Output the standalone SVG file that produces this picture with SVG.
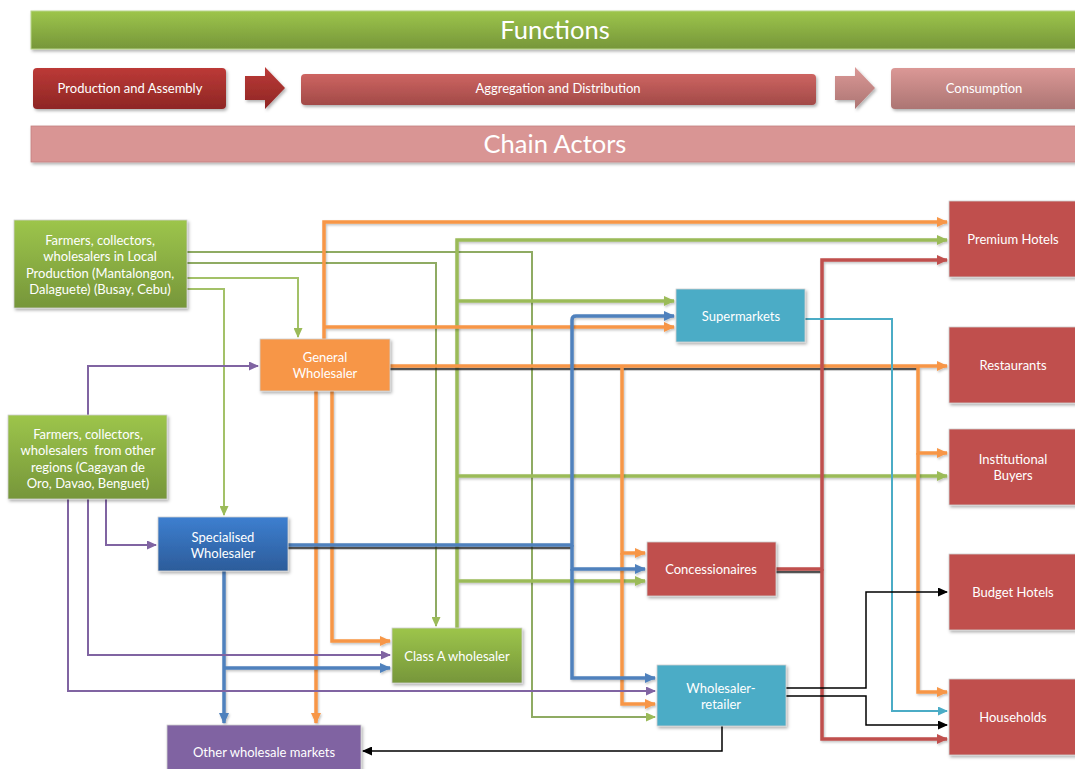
<svg xmlns="http://www.w3.org/2000/svg" width="1075" height="769" viewBox="0 0 1075 769">
  <defs>
    <linearGradient id="gGreen" x1="0" y1="0" x2="0" y2="1">
      <stop offset="0" stop-color="#9dc54b"/>
      <stop offset="1" stop-color="#76963a"/>
    </linearGradient>
    <linearGradient id="gBlue" x1="0" y1="0" x2="0" y2="1">
      <stop offset="0" stop-color="#3d7fd0"/>
      <stop offset="1" stop-color="#2c5c9a"/>
    </linearGradient>
    <linearGradient id="gDarkRed" x1="0" y1="0" x2="0" y2="1">
      <stop offset="0" stop-color="#bc3a37"/>
      <stop offset="1" stop-color="#8e2624"/>
    </linearGradient>
    <linearGradient id="gMidRed" x1="0" y1="0" x2="0" y2="1">
      <stop offset="0" stop-color="#cd6461"/>
      <stop offset="1" stop-color="#a24a48"/>
    </linearGradient>
    <linearGradient id="gPink" x1="0" y1="0" x2="0" y2="1">
      <stop offset="0" stop-color="#db9896"/>
      <stop offset="1" stop-color="#ac7573"/>
    </linearGradient>
    <filter id="shadow" x="-10%" y="-10%" width="130%" height="140%">
      <feDropShadow dx="1.5" dy="2" stdDeviation="1.5" flood-color="#000" flood-opacity="0.3"/>
    </filter>
    <filter id="lineShadow" x="-5%" y="-5%" width="110%" height="110%">
      <feDropShadow dx="1" dy="1.5" stdDeviation="0.8" flood-color="#000" flood-opacity="0.25"/>
    </filter>
    <marker id="aOrange" markerUnits="userSpaceOnUse" markerWidth="11" markerHeight="10" refX="10" refY="5" orient="auto">
      <path d="M0,0 L11,5 L0,10 z" fill="#f79646"/>
    </marker>
    <marker id="aGreen" markerUnits="userSpaceOnUse" markerWidth="11" markerHeight="10" refX="10" refY="5" orient="auto">
      <path d="M0,0 L11,5 L0,10 z" fill="#9bbb59"/>
    </marker>
    <marker id="aGreenThin" markerUnits="userSpaceOnUse" markerWidth="10" markerHeight="9" refX="9" refY="4.5" orient="auto">
      <path d="M0,0 L10,4.5 L0,9 z" fill="#9bbb59"/>
    </marker>
    <marker id="aBlue" markerUnits="userSpaceOnUse" markerWidth="11" markerHeight="10" refX="10" refY="5" orient="auto">
      <path d="M0,0 L11,5 L0,10 z" fill="#4f81bd"/>
    </marker>
    <marker id="aPurple" markerUnits="userSpaceOnUse" markerWidth="10" markerHeight="9" refX="9" refY="4.5" orient="auto">
      <path d="M0,0 L10,4.5 L0,9 z" fill="#8064a2"/>
    </marker>
    <marker id="aRed" markerUnits="userSpaceOnUse" markerWidth="11" markerHeight="10" refX="10" refY="5" orient="auto">
      <path d="M0,0 L11,5 L0,10 z" fill="#c0504d"/>
    </marker>
    <marker id="aCyan" markerUnits="userSpaceOnUse" markerWidth="10" markerHeight="9" refX="9" refY="4.5" orient="auto">
      <path d="M0,0 L10,4.5 L0,9 z" fill="#4bacc6"/>
    </marker>
    <marker id="aBlack" markerUnits="userSpaceOnUse" markerWidth="10" markerHeight="9" refX="9" refY="4.5" orient="auto">
      <path d="M0,0 L10,4.5 L0,9 z" fill="#000"/>
    </marker>
  </defs>
  <style>
    text { font-family: Lato, "Open Sans", "Liberation Sans", sans-serif; fill: #ffffff; text-anchor: middle; }
    .t { font-size: 13px; }
    .big { font-size: 25.5px; }
    .node rect { stroke: #d0d0d0; stroke-width: 0.8; filter: url(#shadow); }
    .c { fill: none; stroke-linejoin: miter; }
    .thick { stroke-width: 3.5; }
    .thin { stroke-width: 2; }
    .orange { stroke: #f79646; }
    .green { stroke: #9bbb59; }
    .lgreen { stroke: #a3c168; }
    .olive { stroke: #8fab63; }
    .blue { stroke: #4f81bd; }
    .purple { stroke: #8064a2; }
    .red { stroke: #c0504d; }
    .cyan { stroke: #4bacc6; }
    .black { stroke: #000000; stroke-width: 1.5; }
    .sh { fill: none; stroke: #2a2a2a; stroke-width: 2.5; opacity: 0.75; }
  </style>

  <rect width="1075" height="769" fill="#ffffff"/>

  <!-- Header: functions banner, stage boxes and chain actors banner -->
  <g id="functions-banner">
    <rect x="31" y="11" width="1050" height="38" fill="url(#gGreen)" stroke="#b8d48a" stroke-width="1" filter="url(#shadow)"/>
    <text class="big" x="555" y="39">Functions</text>
  </g>
  <g id="stage-production">
    <rect x="33" y="68" width="193" height="41" rx="4" fill="url(#gDarkRed)" filter="url(#shadow)"/>
    <text class="t" x="130" y="93">Production and Assembly</text>
  </g>
  <g id="stage-arrow-1">
    <path d="M245,76 H265 V67 L285,88 L265,109 V100 H245 z" fill="url(#gDarkRed)" filter="url(#shadow)"/>
  </g>
  <g id="stage-aggregation">
    <rect x="301" y="74" width="515" height="31" rx="4" fill="url(#gMidRed)" filter="url(#shadow)"/>
    <text class="t" x="558" y="93">Aggregation and Distribution</text>
  </g>
  <g id="stage-arrow-2">
    <path d="M835,76 H855 V67 L875,88 L855,109 V100 H835 z" fill="url(#gPink)" filter="url(#shadow)"/>
  </g>
  <g id="stage-consumption">
    <rect x="891" y="68" width="190" height="41" rx="4" fill="url(#gPink)" filter="url(#shadow)"/>
    <text class="t" x="984" y="93">Consumption</text>
  </g>
  <g id="actors-banner">
    <rect x="31" y="126" width="1050" height="36" fill="#d99594" stroke="#c4807f" stroke-width="0.8" filter="url(#shadow)"/>
    <text class="big" x="555" y="153">Chain Actors</text>
  </g>

  <!-- Flow connectors -->
  <g id="connectors">
    <!-- from local farmers -->
    <path class="c thin olive" d="M187,252 H532 V717 H655" marker-end="url(#aGreenThin)"/>
    <path class="c thin olive" d="M187,263 H436 V626" marker-end="url(#aGreenThin)"/>
    <path class="c thin lgreen" d="M187,278 H298 V337" marker-end="url(#aGreenThin)"/>
    <path class="c thin lgreen" d="M187,289 H224 V515" marker-end="url(#aGreenThin)"/>

    <!-- from class A wholesaler -->
    <g filter="url(#lineShadow)">
      <path class="c thick green" d="M457,628 V240 H947" marker-end="url(#aGreen)"/>
      <path class="c thick green" d="M457,301 H674" marker-end="url(#aGreen)"/>
      <path class="c thick green" d="M457,476 H947" marker-end="url(#aGreen)"/>
      <path class="c thick green" d="M457,581 H645" marker-end="url(#aGreen)"/>
    </g>

    <!-- from general wholesaler -->
    <path class="sh" d="M390,369 H918"/>
    <g filter="url(#lineShadow)">
      <path class="c thick orange" d="M324,339 V222 H947" marker-end="url(#aOrange)"/>
      <path class="c thick orange" d="M324,327 H674" marker-end="url(#aOrange)"/>
      <path class="c thick orange" d="M390,366 H947" marker-end="url(#aOrange)"/>
      <path class="c thick orange" d="M918,366 V453 H947" marker-end="url(#aOrange)"/>
      <path class="c thick orange" d="M918,453 V692 H947" marker-end="url(#aOrange)"/>
      <path class="c thick orange" d="M622,366 V553 H645" marker-end="url(#aOrange)"/>
      <path class="c thick orange" d="M622,553 V704 H655" marker-end="url(#aOrange)"/>
      <path class="c thick orange" d="M316,391 V723" marker-end="url(#aOrange)"/>
      <path class="c thick orange" d="M332,391 V641 H390" marker-end="url(#aOrange)"/>
    </g>

    <!-- from specialised wholesaler -->
    <path class="sh" d="M288,548 H572"/>
    <g filter="url(#lineShadow)">
      <path class="c thick blue" d="M288,545 H572 V320 Q572,316 576,316 H674" marker-end="url(#aBlue)"/>
      <path class="c thick blue" d="M572,545 V569 H645" marker-end="url(#aBlue)"/>
      <path class="c thick blue" d="M572,569 V678 H655" marker-end="url(#aBlue)"/>
      <path class="c thick blue" d="M224,571 V723" marker-end="url(#aBlue)"/>
      <path class="c thick blue" d="M224,668 H390" marker-end="url(#aBlue)"/>
    </g>

    <!-- from farmers of other regions -->
    <path class="c thin purple" d="M88,415 V366 H258" marker-end="url(#aPurple)"/>
    <path class="c thin purple" d="M68,499 V691 H655" marker-end="url(#aPurple)"/>
    <path class="c thin purple" d="M88,499 V655 H390" marker-end="url(#aPurple)"/>
    <path class="c thin purple" d="M106,499 V545 H156" marker-end="url(#aPurple)"/>

    <!-- from concessionaires -->
    <path class="sh" d="M776,572 H822"/>
    <g filter="url(#lineShadow)">
      <path class="c thick red" d="M776,569 H822 V260 H947" marker-end="url(#aRed)"/>
      <path class="c thick red" d="M822,569 V739 H947" marker-end="url(#aRed)"/>
    </g>

    <!-- from supermarkets -->
    <path class="c thin cyan" d="M805,319 H892 V711 H947" marker-end="url(#aCyan)"/>

    <!-- from wholesaler-retailer -->
    <path class="c black" d="M786,688 H866 V592 H947" marker-end="url(#aBlack)"/>
    <path class="c black" d="M786,696 H866 V725 H947" marker-end="url(#aBlack)"/>
    <path class="c black" d="M722,726 V751 H363" marker-end="url(#aBlack)"/>
  </g>

  <!-- Chain actor nodes -->
  <g id="farmers-local" class="node">
    <rect x="14" y="220" width="173" height="88" fill="url(#gGreen)"/>
    <text class="t" x="100" y="244.5">Farmers, collectors,</text>
    <text class="t" x="100" y="261">wholesalers in Local</text>
    <text class="t" x="100" y="277.5">Production (Mantalongon,</text>
    <text class="t" x="100" y="294">Dalaguete) (Busay, Cebu)</text>
  </g>
  <g id="farmers-other" class="node">
    <rect x="8" y="415" width="159" height="84" fill="url(#gGreen)"/>
    <text class="t" x="88" y="438.5">Farmers, collectors,</text>
    <text class="t" x="88" y="455" xml:space="preserve">wholesalers  from other</text>
    <text class="t" x="88" y="471.5">regions (Cagayan de</text>
    <text class="t" x="88" y="488">Oro, Davao, Benguet)</text>
  </g>
  <g id="general-wholesaler" class="node">
    <rect x="260" y="339" width="130" height="52" fill="#f79646"/>
    <text class="t" x="325" y="361.5">General</text>
    <text class="t" x="325" y="378">Wholesaler</text>
  </g>
  <g id="specialised-wholesaler" class="node">
    <rect x="158" y="517" width="130" height="54" fill="url(#gBlue)"/>
    <text class="t" x="223" y="541.5">Specialised</text>
    <text class="t" x="223" y="558">Wholesaler</text>
  </g>
  <g id="class-a-wholesaler" class="node">
    <rect x="392" y="628" width="130" height="55" fill="url(#gGreen)"/>
    <text class="t" x="457" y="660.5">Class A wholesaler</text>
  </g>
  <g id="other-wholesale-markets" class="node">
    <rect x="167" y="725" width="194" height="50" fill="#8064a2"/>
    <text class="t" x="264" y="756.5">Other wholesale markets</text>
  </g>
  <g id="supermarkets" class="node">
    <rect x="676" y="289" width="129" height="53" fill="#4bacc6"/>
    <text class="t" x="741" y="320.5">Supermarkets</text>
  </g>
  <g id="concessionaires" class="node">
    <rect x="647" y="542" width="129" height="54" fill="#c0504d"/>
    <text class="t" x="711" y="573.5">Concessionaires</text>
  </g>
  <g id="wholesaler-retailer" class="node">
    <rect x="657" y="665" width="129" height="61" fill="#4bacc6"/>
    <text class="t" x="721" y="692.5">Wholesaler-</text>
    <text class="t" x="721" y="709">retailer</text>
  </g>
  <g id="premium-hotels" class="node">
    <rect x="949" y="201" width="130" height="76" fill="#c0504d"/>
    <text class="t" x="1013" y="244">Premium Hotels</text>
  </g>
  <g id="restaurants" class="node">
    <rect x="949" y="327" width="130" height="76" fill="#c0504d"/>
    <text class="t" x="1013" y="370">Restaurants</text>
  </g>
  <g id="institutional-buyers" class="node">
    <rect x="949" y="429" width="130" height="76" fill="#c0504d"/>
    <text class="t" x="1013" y="463.5">Institutional</text>
    <text class="t" x="1013" y="480">Buyers</text>
  </g>
  <g id="budget-hotels" class="node">
    <rect x="949" y="554" width="130" height="76" fill="#c0504d"/>
    <text class="t" x="1013" y="596.5">Budget Hotels</text>
  </g>
  <g id="households" class="node">
    <rect x="949" y="679" width="130" height="76" fill="#c0504d"/>
    <text class="t" x="1013" y="721.5">Households</text>
  </g>
</svg>
